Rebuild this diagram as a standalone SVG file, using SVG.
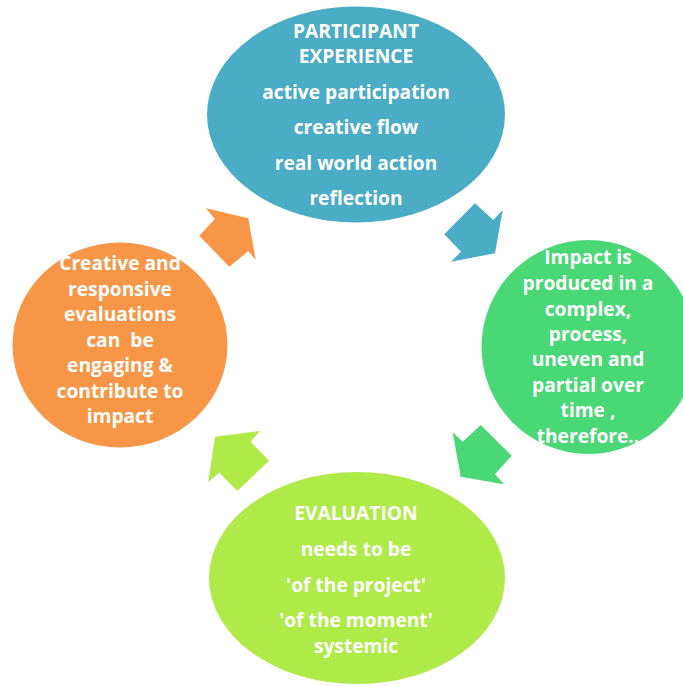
<svg xmlns="http://www.w3.org/2000/svg" width="683" height="686" viewBox="0 0 683 686">
<style>
text{font-family:"Open Sans","Liberation Sans",sans-serif;font-weight:700;font-size:19.2px;fill:#ffffff;text-anchor:middle;white-space:pre}
.blue{fill:#4BACC6}.orange{fill:#F79646}.green{fill:#4AD776}.lime{fill:#AFEA48}
</style>
<rect width="683" height="686" fill="#ffffff"/>
<g id="connectors">
<polygon class="orange" points="206,208.3 248.3,218.3 255.7,260 248.3,251 229.3,266.7 199.3,235.7 215,219"/>
<polygon class="blue" points="475,203.3 493.3,220 502.7,210 495,253.3 451,261.7 461,251.7 444.3,234.3"/>
<polygon class="green" points="452.7,432.3 462.7,441.7 480.7,425 511.7,455.7 495,474.3 504,484.3 460.7,476.7"/>
<polygon class="lime" points="215,436.7 260,431 250.7,441.7 269,460.7 237.3,491 219.3,472.7 208.3,481.7"/>
</g>
<g id="participant-experience">
<ellipse class="blue" cx="356" cy="114.5" rx="149" ry="108"/>
<text x="356" y="38">PARTICIPANT</text>
<text x="356" y="62.5">EXPERIENCE</text>
<text x="356" y="99">active participation</text>
<text x="356" y="134">creative flow</text>
<text x="356" y="170">real world action</text>
<text x="356" y="205">reflection</text>
</g>
<g id="impact">
<circle class="green" cx="588.5" cy="347" r="107"/>
<text x="588" y="264">Impact is</text>
<text x="588" y="290">produced in a</text>
<text x="588" y="316">complex,</text>
<text x="588" y="341">process,</text>
<text x="588" y="366">uneven and</text>
<text x="588" y="392">partial over</text>
<text x="588" y="417">time ,</text>
<text x="588" y="443">therefore..</text>
</g>
<g id="evaluation">
<ellipse class="lime" cx="357" cy="578" rx="148" ry="106"/>
<text x="356" y="520">EVALUATION</text>
<text x="356" y="556">needs to be</text>
<text x="356" y="592">'of the project'</text>
<text x="356" y="627">'of the moment'</text>
<text x="356" y="653">systemic</text>
</g>
<g id="creative-evaluations">
<ellipse class="orange" cx="120" cy="345" rx="107.5" ry="102.5"/>
<text x="120" y="270">Creative and</text>
<text x="120" y="296">responsive</text>
<text x="120" y="321">evaluations</text>
<text x="120" y="347">can  be</text>
<text x="120" y="372">engaging &amp;</text>
<text x="120" y="398">contribute to</text>
<text x="120" y="423">impact</text>
</g>
</svg>
